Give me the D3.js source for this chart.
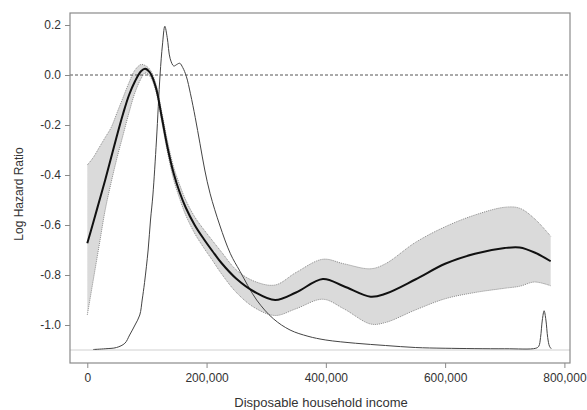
<!DOCTYPE html>
<html>
<head>
<meta charset="utf-8">
<script src="https://cdn.jsdelivr.net/npm/d3@7"></script>
<style>
    body { margin: 0; background: #fff; }
    text { font-family: Arial, "Liberation Sans", sans-serif; fill: #333; }
</style>
</head>
<body>
<div id="chart"></div>
<script>

/* fitted log hazard ratio with 95% band, on a shared income grid */
const incomeGrid = [0, 10e3, 20e3, 30e3, 40e3, 50e3, 60e3, 70e3, 80e3, 90e3, 97e3, 105e3, 115e3, 125e3,
    135e3, 145e3, 155e3, 165e3, 180e3, 195e3, 210e3, 225e3, 250e3, 280e3, 315e3, 350e3, 395e3, 430e3,
    475e3, 500e3, 550e3, 600e3, 650e3, 700e3, 725e3, 750e3, 777e3];

const logHR = [-0.673, -0.59, -0.505, -0.42, -0.33, -0.24, -0.155, -0.08, -0.025, 0.015, 0.025, 0.01, -0.05, -0.17,
    -0.295, -0.395, -0.47, -0.53, -0.6, -0.655, -0.705, -0.752, -0.815, -0.867, -0.9, -0.87, -0.816, -0.845,
    -0.887, -0.875, -0.818, -0.755, -0.715, -0.692, -0.69, -0.71, -0.745];

const upperCI = [-0.36, -0.33, -0.29, -0.25, -0.21, -0.15, -0.09, -0.03, 0.02, 0.042, 0.038, 0.022, -0.035, -0.15,
    -0.27, -0.37, -0.44, -0.5, -0.567, -0.617, -0.663, -0.708, -0.78, -0.825, -0.84, -0.79, -0.737, -0.755,
    -0.775, -0.755, -0.67, -0.607, -0.56, -0.529, -0.533, -0.575, -0.645];

const lowerCI = [-0.96, -0.82, -0.68, -0.54, -0.43, -0.33, -0.24, -0.15, -0.07, -0.015, 0.008, -0.005, -0.065, -0.19,
    -0.315, -0.42, -0.495, -0.56, -0.633, -0.69, -0.742, -0.795, -0.87, -0.93, -0.962, -0.935, -0.897, -0.935,
    -0.996, -0.99, -0.94, -0.895, -0.87, -0.853, -0.845, -0.828, -0.843];

/* income distribution curve, drawn on the same y scale */
const densityIncome = [10e3, 30e3, 49e3, 63e3, 71e3, 80e3, 88e3, 92e3, 96e3, 102e3, 106e3, 110e3, 116e3, 122e3,
    126e3, 130e3, 134e3, 139e3, 145e3, 150e3, 155e3, 160e3, 166e3, 173e3, 181e3, 189e3, 197e3, 206e3, 222e3,
    240e3, 256e3, 284e3, 312e3, 340e3, 370e3, 400e3, 450e3, 500e3, 550e3, 600e3, 700e3, 752e3, 757e3,
    760e3, 763e3, 766e3, 769e3, 772e3, 775e3, 778e3];

const densityY = [-1.098, -1.095, -1.09, -1.073, -1.04, -1.0, -0.96, -0.9, -0.83, -0.7, -0.58, -0.48, -0.26, 0.0,
    0.12, 0.195, 0.15, 0.065, 0.036, 0.042, 0.047, 0.03, -0.005, -0.075, -0.17, -0.275, -0.38, -0.475, -0.6,
    -0.715, -0.785, -0.9, -0.975, -1.02, -1.045, -1.06, -1.073, -1.082, -1.09, -1.093, -1.095, -1.093, -1.085,
    -1.05, -0.98, -0.943, -0.98, -1.05, -1.085, -1.095];

const xTicks = [0, 200000, 400000, 600000, 800000];
const yTicks = [0.2, 0.0, -0.2, -0.4, -0.6, -0.8, -1.0];
const refLine = 0;
const baseLine = -1.1;

/* layout */
const W = 587, H = 410;
const plot = { left: 70, top: 13, right: 570, bottom: 363 };

const svg = d3.select("#chart").append("svg")
    .attr("width", W).attr("height", H);

const xScale = d3.scaleLinear()
    .domain([-29000, 809400])
    .range([plot.left, plot.right]);

const yScale = d3.scaleLinear()
    .domain([-1.152, 0.248])
    .range([plot.bottom, plot.top]);

svg.append("clipPath").attr("id", "clip")
    .append("rect")
    .attr("x", plot.left).attr("y", plot.top)
    .attr("width", plot.right - plot.left).attr("height", plot.bottom - plot.top);

const g = svg.append("g").attr("clip-path", "url(#clip)");

const band = incomeGrid.map((x, i) => ({ x: x, hr: logHR[i], lo: lowerCI[i], hi: upperCI[i] }));
const dens = densityIncome.map((x, i) => ({ x: x, y: densityY[i] }));

const curve = d3.curveCatmullRom.alpha(0.5);

/* confidence band */
g.append("path")
    .datum(band)
    .attr("fill", "#dadada")
    .attr("d", d3.area().curve(curve)
        .x(d => xScale(d.x))
        .y0(d => yScale(d.lo))
        .y1(d => yScale(d.hi)));

["hi", "lo"].forEach(function(key) {
    g.append("path")
        .datum(band)
        .attr("fill", "none")
        .attr("stroke", "#8a8a8a")
        .attr("stroke-width", 1)
        .attr("stroke-dasharray", "1,1")
        .attr("d", d3.line().curve(curve)
            .x(d => xScale(d.x))
            .y(d => yScale(d[key])));
});

/* reference lines */
g.append("line")
    .attr("x1", plot.left).attr("x2", plot.right)
    .attr("y1", yScale(baseLine)).attr("y2", yScale(baseLine))
    .attr("stroke", "#d0d0d0").attr("stroke-width", 1);

g.append("line")
    .attr("x1", plot.left).attr("x2", plot.right)
    .attr("y1", yScale(refLine)).attr("y2", yScale(refLine))
    .attr("stroke", "#555").attr("stroke-width", 1)
    .attr("stroke-dasharray", "3,2");

/* income distribution */
g.append("path")
    .datum(dens)
    .attr("fill", "none")
    .attr("stroke", "#444")
    .attr("stroke-width", 1)
    .attr("d", d3.line().curve(curve)
        .x(d => xScale(d.x))
        .y(d => yScale(d.y)));

/* fitted curve */
g.append("path")
    .datum(band)
    .attr("fill", "none")
    .attr("stroke", "#111")
    .attr("stroke-width", 2)
    .attr("d", d3.line().curve(curve)
        .x(d => xScale(d.x))
        .y(d => yScale(d.hr)));

/* axes */
const fmtX = d3.format(",");
const xAxis = svg.append("g")
    .attr("transform", `translate(0, ${plot.bottom})`)
    .call(d3.axisBottom(xScale).tickValues(xTicks).tickFormat(fmtX).tickSize(5).tickSizeOuter(0).tickPadding(5));

const yAxis = svg.append("g")
    .attr("transform", `translate(${plot.left}, 0)`)
    .call(d3.axisLeft(yScale).tickValues(yTicks).tickFormat(d => d3.format(".1f")(d).replace("−", "-")).tickSize(5).tickSizeOuter(0).tickPadding(4));

[xAxis, yAxis].forEach(function(ax) {
    ax.select(".domain").remove();
    ax.selectAll(".tick line").attr("stroke", "#8a8a8a");
    ax.selectAll(".tick text")
        .attr("font-family", "Arial, 'Liberation Sans', sans-serif")
        .attr("font-size", 12)
        .attr("fill", "#333");
});

/* frame */
svg.append("rect")
    .attr("x", plot.left).attr("y", plot.top)
    .attr("width", plot.right - plot.left).attr("height", plot.bottom - plot.top)
    .attr("fill", "none")
    .attr("stroke", "#8a8a8a")
    .attr("stroke-width", 1.2);

/* axis titles */
svg.append("text")
    .text("Disposable household income")
    .attr("x", (plot.left + plot.right) / 2 + 1)
    .attr("y", 407)
    .attr("text-anchor", "middle")
    .attr("font-size", 13);

svg.append("text")
    .text("Log Hazard Ratio")
    .attr("transform", "translate(23, 194) rotate(-90)")
    .attr("text-anchor", "middle")
    .attr("font-size", 12);

</script>
</body>
</html>
